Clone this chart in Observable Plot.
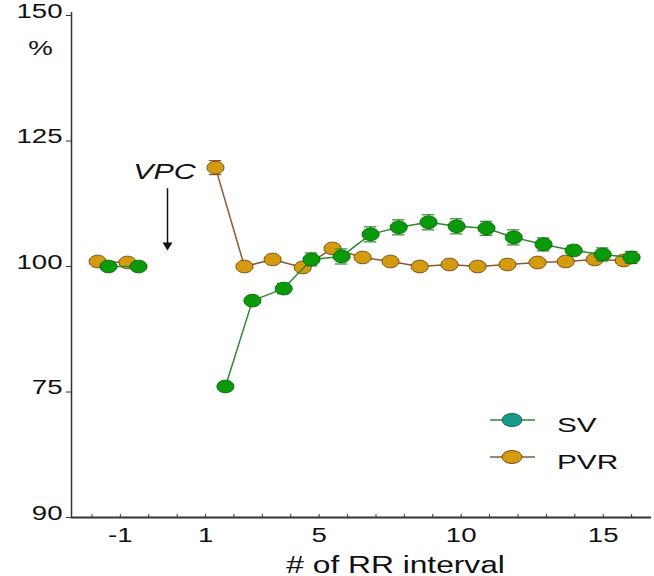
<!DOCTYPE html>
<html><head><meta charset="utf-8">
<script src="https://cdn.jsdelivr.net/npm/d3@7"></script>
<script src="https://cdn.jsdelivr.net/npm/@observablehq/plot@0.6"></script>
<style>
body{margin:0;background:#fff;}
#chart{position:relative;width:654px;height:576px;}
svg text{font-family:"Liberation Sans",Arial,sans-serif;}
</style></head><body><div id="chart"></div>
<script>
// ---- data ----
const svBeat = [-2.42, -1.36, 1.70, 2.65, 3.75, 4.73, 5.79, 6.81, 7.80, 8.85, 9.84, 10.89, 11.85, 12.90, 13.96, 14.98, 16.00];
const svValue = [100.0, 100.0, 76.1, 93.2, 95.6, 101.4, 102.0, 106.4, 107.8, 108.8, 108.0, 107.6, 105.8, 104.4, 103.2, 102.4, 101.8];
const svErr = [0.3, 0.3, 0.7, 0.4, 1.0, 1.3, 1.5, 1.5, 1.5, 1.5, 1.5, 1.4, 1.5, 1.3, 1.0, 1.3, 1.2];

const pvrBeat = [-2.80, -1.75, 1.35, 2.37, 3.36, 4.42, 5.47, 6.53, 7.51, 8.54, 9.59, 10.58, 11.63, 12.69, 13.68, 14.70, 15.72];
const pvrValue = [101.0, 100.8, 119.7, 100.0, 101.4, 99.8, 103.6, 101.8, 101.0, 100.0, 100.4, 100.0, 100.4, 100.8, 101.0, 101.4, 101.2];
const pvrErr = [0.4, 0.4, 1.4, 0.5, 0.6, 0.5, 0.6, 0.6, 0.6, 0.6, 0.6, 0.6, 0.6, 0.6, 0.6, 0.6, 0.6];

const xTickPos = [-2, 1, 5, 10, 15];
const xTickLabels = ["-1", "1", "5", "10", "15"];
const xMinorTicks = d3.range(-3, 17);
const yTickVals = [50, 75, 100, 125, 150];
const yTickLabels = ["90", "75", "100", "125", "150"];
const seriesNames = ["SV", "PVR"];
const xTitle = "# of RR interval";
const yTitle = "%";
const vpcLabel = "VPC";

// ---- helpers ----
const X0 = -3.72, X1 = 16.7;
const toRows = (xs, vs, es) => xs.map((x, i) => ({x, v: vs[i], e: es[i], seg: x < 0 ? "pre" : "post"}));
const sv = toRows(svBeat, svValue, svErr);
const pvr = toRows(pvrBeat, pvrValue, pvrErr);

const ellipse = {draw(ctx, size) {
  const r = Math.sqrt(size / Math.PI), rx = r * 1.35, ry = r, k = 0.5523;
  ctx.moveTo(rx, 0);
  ctx.bezierCurveTo(rx, k * ry, k * rx, ry, 0, ry);
  ctx.bezierCurveTo(-k * rx, ry, -rx, k * ry, -rx, 0);
  ctx.bezierCurveTo(-rx, -k * ry, -k * rx, -ry, 0, -ry);
  ctx.bezierCurveTo(k * rx, -ry, rx, -k * ry, rx, 0);
  ctx.closePath();
}};
const downTri = {draw(ctx) { ctx.moveTo(-5, -4); ctx.lineTo(5, -4); ctx.lineTo(0, 4); ctx.closePath(); }};

const C = {svLine: "#2b8a2b", svFill: "#0b9a0b", svStroke: "#0a6a0a",
           pvrLine: "#8b5a2b", pvrFill: "#d49b10", pvrStroke: "#7a4a12", axis: "#333"};
const capHalf = 0.22;

function series(rows, line, fill, stroke) {
  return [
    Plot.line(rows, {x: "x", y: "v", z: "seg", stroke: line, strokeWidth: 1.5}),
    Plot.ruleX(rows, {x: "x", y1: d => d.v - d.e, y2: d => d.v + d.e, stroke: line, strokeWidth: 1.2}),
    Plot.ruleY(rows, {y: d => d.v + d.e, x1: d => d.x - capHalf, x2: d => d.x + capHalf, stroke: line, strokeWidth: 1.2}),
    Plot.ruleY(rows, {y: d => d.v - d.e, x1: d => d.x - capHalf, x2: d => d.x + capHalf, stroke: line, strokeWidth: 1.2}),
    Plot.dot(rows, {x: "x", y: "v", symbol: ellipse, r: 6.3, fill, stroke, strokeWidth: 1})
  ];
}

const svg = Plot.plot({
  width: 654, height: 576,
  marginLeft: 71, marginRight: 3, marginTop: 15, marginBottom: 59,
  x: {domain: [X0, X1], axis: null},
  y: {domain: [50, 150], axis: null},
  style: {fontFamily: "'Liberation Sans', Arial, sans-serif", background: "#fff", color: "#111"},
  marks: [
    Plot.ruleX([X0], {y1: 50, y2: 150.6, stroke: C.axis, strokeWidth: 1.5}),
    Plot.ruleY([50], {stroke: C.axis, strokeWidth: 2}),
    Plot.ruleY(yTickVals, {x1: X0 - 5 / 28.4, x2: X0, stroke: C.axis, strokeWidth: 1}),
    Plot.ruleX(xMinorTicks, {y1: 50, y2: 50 + 3 / 5.02, stroke: C.axis, strokeWidth: 1}),
    Plot.text(yTickVals, {x: X0, y: d => d, text: (d, i) => yTickLabels[i], textAnchor: "end", dx: -9, dy: 2, fontSize: 20, fill: "#111"}),
    Plot.text(xTickPos, {x: d => d, y: 50, text: (d, i) => xTickLabels[i], dy: 24, fontSize: 20, fill: "#111"}),
    Plot.text([xTitle], {x: 7.69, y: 50, text: d => d, dy: 55, fontSize: 23, fill: "#111"}),
    Plot.text([yTitle], {x: X0, y: 142.2, text: d => d, dx: -31, fontSize: 20, fill: "#111"}),
    Plot.text([vpcLabel], {x: -0.45, y: 117.4, text: d => d, fontSize: 22, fontStyle: "italic", fill: "#111"}),
    Plot.ruleX([-0.34], {y1: 115.5, y2: 104.5, stroke: "#111", strokeWidth: 1.5}),
    Plot.dot([-0.34], {x: d => d, y: 104.0, symbol: downTri, fill: "#111", stroke: "none"}),
    ...series(pvr, C.pvrLine, C.pvrFill, C.pvrStroke),
    ...series(sv, C.svLine, C.svFill, C.svStroke)
  ]
});

// stretch text horizontally like the reference
const SX = 1.38;
d3.select(svg).selectAll("text").each(function() {
  const x = +this.getAttribute("x") || 0, y = +this.getAttribute("y") || 0;
  this.removeAttribute("x"); this.removeAttribute("y");
  const t = this.getAttribute("transform") || "";
  this.setAttribute("transform", `${t} translate(${x},${y}) scale(${SX},1)`);
});

// legend
const leg = d3.select(svg).append("g");
const legItems = [
  {name: seriesNames[0], y: 420, line: C.svLine, fill: "#17998c", stroke: "#0d6a60"},
  {name: seriesNames[1], y: 457, line: C.pvrLine, fill: C.pvrFill, stroke: C.pvrStroke}
];
legItems.forEach(it => {
  leg.append("line").attr("x1", 490).attr("x2", 535).attr("y1", it.y).attr("y2", it.y)
    .attr("stroke", it.line).attr("stroke-width", 1.5);
  leg.append("ellipse").attr("cx", 512).attr("cy", it.y).attr("rx", 10).attr("ry", 6.5)
    .attr("fill", it.fill).attr("stroke", it.stroke);
  leg.append("text").attr("transform", `translate(557,${it.y + 12}) scale(1.42,1)`)
    .attr("text-anchor", "start").attr("font-size", 21).attr("fill", "#111").text(it.name);
});

document.getElementById("chart").appendChild(svg);
</script>
</body></html>
